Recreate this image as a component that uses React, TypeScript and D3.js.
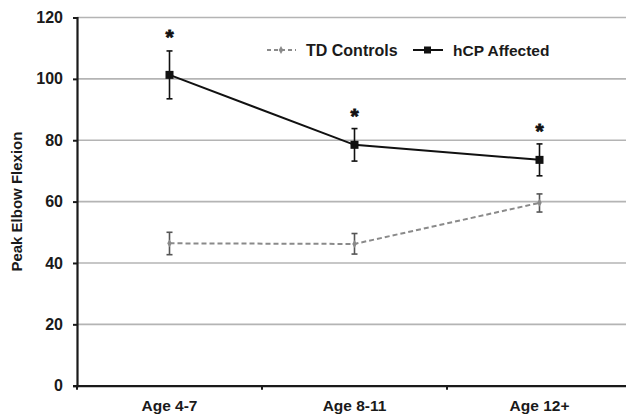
import React, { useEffect, useRef } from "react";
import * as d3 from "d3";

const ageGroups = ["Age 4-7", "Age 8-11", "Age 12+"];
const yTicks = [0, 20, 40, 60, 80, 100, 120];

const hcpMean = [101.3, 78.5, 73.6];
const hcpHigh = [109.1, 83.8, 78.8];
const hcpLow = [93.5, 73.2, 68.4];
const sigMarks = [115.1, 89.3, 84.3];

const tdMean = [46.4, 46.2, 59.6];
const tdHigh = [50.0, 49.6, 62.5];
const tdLow = [42.7, 42.9, 56.6];

const App = () => {
  const ref = useRef<SVGSVGElement>(null);

  useEffect(() => {
    const width = 626;
    const height = 416;
    const svg = d3.select(ref.current);
    svg.selectAll("*").remove();

    const margin = { top: 17.5, right: -6, bottom: 30.3, left: 77 };
    const innerWidth = width - margin.left - margin.right;
    const innerHeight = height - margin.top - margin.bottom;
    const font = "'Liberation Sans', Arial, sans-serif";

    const x = d3.scaleBand().domain(ageGroups).range([0, innerWidth]);
    const y = d3.scaleLinear().domain([0, 120]).range([innerHeight, 0]);
    const cx = (i: number) => (x(ageGroups[i]) as number) + x.bandwidth() / 2;

    const g = svg
      .append("g")
      .attr("transform", `translate(${margin.left},${margin.top})`);

    // gridlines
    g.selectAll("line.grid")
      .data(yTicks.filter((t) => t > 0))
      .enter()
      .append("line")
      .attr("x1", 0)
      .attr("x2", innerWidth)
      .attr("y1", (d) => y(d))
      .attr("y2", (d) => y(d))
      .attr("stroke", "#b4b4b4")
      .attr("stroke-width", 1.6);

    // y axis
    const yAxis = g
      .append("g")
      .call(d3.axisLeft(y).tickValues(yTicks).tickSize(4).tickPadding(10));
    yAxis.select(".domain").attr("stroke", "#1a1a1a").attr("stroke-width", 2.2);
    yAxis.selectAll(".tick line").attr("stroke", "#1a1a1a").attr("stroke-width", 2);
    yAxis
      .selectAll(".tick text")
      .attr("font-family", font)
      .attr("font-weight", "bold")
      .attr("font-size", 16)
      .attr("fill", "#1a1a1a");

    // x axis
    const xAxis = g
      .append("g")
      .attr("transform", `translate(0,${innerHeight})`)
      .call(d3.axisBottom(x).tickSize(0).tickPadding(14.5));
    xAxis.select(".domain").attr("stroke", "#1a1a1a").attr("stroke-width", 2.2);
    xAxis
      .selectAll(".tick text")
      .attr("font-family", font)
      .attr("font-weight", "bold")
      .attr("font-size", 15.5)
      .attr("fill", "#1a1a1a");
    // small boundary ticks between categories
    g.selectAll("line.xtick")
      .data(ageGroups)
      .enter()
      .append("line")
      .attr("x1", (d) => x(d) as number)
      .attr("x2", (d) => x(d) as number)
      .attr("y1", innerHeight)
      .attr("y2", innerHeight + 4)
      .attr("stroke", "#1a1a1a")
      .attr("stroke-width", 2);

    // y axis title
    svg
      .append("text")
      .attr("transform", `translate(21.5,${margin.top + innerHeight / 2}) rotate(-90)`)
      .attr("text-anchor", "middle")
      .attr("font-family", font)
      .attr("font-weight", "bold")
      .attr("font-size", 15)
      .attr("fill", "#1a1a1a")
      .text("Peak Elbow Flexion");

    const line = d3
      .line<number>()
      .x((_, i) => cx(i))
      .y((d) => y(d));

    const errorBars = (
      high: number[],
      low: number[],
      color: string,
      sw: number
    ) => {
      high.forEach((h, i) => {
        const eg = g.append("g").attr("stroke", color).attr("stroke-width", sw);
        eg.append("line")
          .attr("x1", cx(i))
          .attr("x2", cx(i))
          .attr("y1", y(h))
          .attr("y2", y(low[i]));
        [h, low[i]].forEach((v) =>
          eg
            .append("line")
            .attr("x1", cx(i) - 3)
            .attr("x2", cx(i) + 3)
            .attr("y1", y(v))
            .attr("y2", y(v))
        );
      });
    };

    // TD controls
    g.append("path")
      .datum(tdMean)
      .attr("d", line)
      .attr("fill", "none")
      .attr("stroke", "#8a8a8a")
      .attr("stroke-width", 2)
      .attr("stroke-dasharray", "5,3");
    errorBars(tdHigh, tdLow, "#555", 1.6);
    g.selectAll("path.td")
      .data(tdMean)
      .enter()
      .append("path")
      .attr("d", d3.symbol(d3.symbolDiamond, 18)())
      .attr("transform", (d, i) => `translate(${cx(i)},${y(d)})`)
      .attr("fill", "#8a8a8a");

    // hCP affected
    g.append("path")
      .datum(hcpMean)
      .attr("d", line)
      .attr("fill", "none")
      .attr("stroke", "#111")
      .attr("stroke-width", 2);
    errorBars(hcpHigh, hcpLow, "#111", 1.6);
    g.selectAll("rect.hcp")
      .data(hcpMean)
      .enter()
      .append("rect")
      .attr("x", (_, i) => cx(i) - 4)
      .attr("y", (d) => y(d) - 4)
      .attr("width", 8)
      .attr("height", 8)
      .attr("fill", "#111");

    // significance asterisks
    g.selectAll("text.sig")
      .data(sigMarks)
      .enter()
      .append("text")
      .attr("x", (_, i) => cx(i))
      .attr("y", (d) => y(d) + 11)
      .attr("text-anchor", "middle")
      .attr("font-family", font)
      .attr("font-weight", "bold")
      .attr("font-size", 21)
      .attr("fill", "#111")
      .attr("stroke", "#111")
      .attr("stroke-width", 0.8)
      .text("*");

    // legend
    const lg = svg.append("g").attr("font-family", font);
    lg.append("line")
      .attr("x1", 267)
      .attr("x2", 296)
      .attr("y1", 50)
      .attr("y2", 50)
      .attr("stroke", "#8a8a8a")
      .attr("stroke-width", 2)
      .attr("stroke-dasharray", "4,3");
    lg.append("path")
      .attr("d", d3.symbol(d3.symbolDiamond, 18)())
      .attr("transform", "translate(281,50)")
      .attr("fill", "#8a8a8a");
    lg.append("text")
      .attr("x", 306)
      .attr("y", 55.5)
      .attr("font-weight", "bold")
      .attr("font-size", 16)
      .attr("fill", "#1a1a1a")
      .text("TD Controls");
    lg.append("line")
      .attr("x1", 413)
      .attr("x2", 443)
      .attr("y1", 50)
      .attr("y2", 50)
      .attr("stroke", "#111")
      .attr("stroke-width", 2);
    lg.append("rect")
      .attr("x", 424)
      .attr("y", 46.5)
      .attr("width", 7)
      .attr("height", 7)
      .attr("fill", "#111");
    lg.append("text")
      .attr("x", 453)
      .attr("y", 55.5)
      .attr("font-weight", "bold")
      .attr("font-size", 15.5)
      .attr("fill", "#1a1a1a")
      .text("hCP Affected");
  }, []);

  return (
    <svg
      ref={ref}
      width={626}
      height={416}
      style={{ position: "absolute", left: 0, top: 0, background: "#fff" }}
    />
  );
};

export default App;
